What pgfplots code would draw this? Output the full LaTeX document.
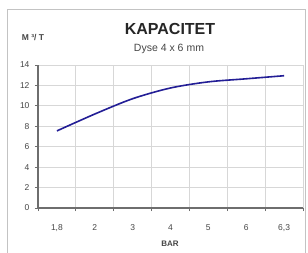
\documentclass[border=0pt]{standalone}
\usepackage{pgfplots}
\pgfplotsset{compat=1.18}
\usepackage{fontspec}
\setmainfont{Liberation Sans}
\definecolor{gridgray}{RGB}{215,215,215}
\definecolor{framegray}{RGB}{195,195,195}
\definecolor{axisgray}{RGB}{110,110,110}
\definecolor{txtgray}{RGB}{70,70,70}
\definecolor{linecol}{RGB}{35,30,150}
\begin{document}
\begin{tikzpicture}[x=1pt,y=1pt]
\useasboundingbox (0,0) rectangle (308,252);
\fill[white] (0,0) rectangle (308,252);
\draw[framegray,line width=1pt] (7,-5) -- (7,242) -- (305,242) -- (305,-5);
\node[font=\fontsize{16}{18}\selectfont\bfseries,text=black!85] at (170,223) {KAPACITET};
\node[font=\fontsize{10.5}{12}\selectfont,text=txtgray] at (169,203) {Dyse 4 x 6 mm};
\node[font=\fontsize{8.5}{10}\selectfont\bfseries,text=txtgray] at (33,214) {M ³/ T};
\node[font=\fontsize{8}{9}\selectfont\bfseries,text=txtgray] at (170,8) {BAR};
\begin{axis}[
  scale only axis,
  width=265pt, height=143pt,
  at={(38pt,44pt)}, anchor=south west,
  xmin=-0.5, xmax=6.5, ymin=0, ymax=14,
  axis x line*=bottom, axis y line*=left,
  axis line style={-, axisgray, line width=1.2pt},
  xtick={-0.5,0.5,1.5,2.5,3.5,4.5,5.5,6.5},
  xticklabels={},
  extra x ticks={0,1,2,3,4,5,6},
  extra x tick labels={{1,8},2,3,4,5,6,{6,3}},
  extra x tick style={grid=none, major tick length=0pt},
  ytick={0,2,...,14},
  tick align=outside,
  major tick length=3pt,
  tick style={axisgray, line width=0.8pt},
  grid=major,
  major grid style={gridgray, line width=0.8pt},
  ticklabel style={font=\fontsize{8.5}{10}\selectfont, text=txtgray},
  xticklabel style={yshift=-13pt},
  yticklabel style={xshift=-2pt},
  /pgf/number format/assume math mode=true,
  clip=false,
]
\addplot[linecol, line width=1.6pt, smooth] coordinates {
  (0,7.55) (1,9.2) (2,10.7) (3,11.75) (4,12.35) (5,12.65) (6,12.95)
};
\end{axis}
\end{tikzpicture}
\end{document}
